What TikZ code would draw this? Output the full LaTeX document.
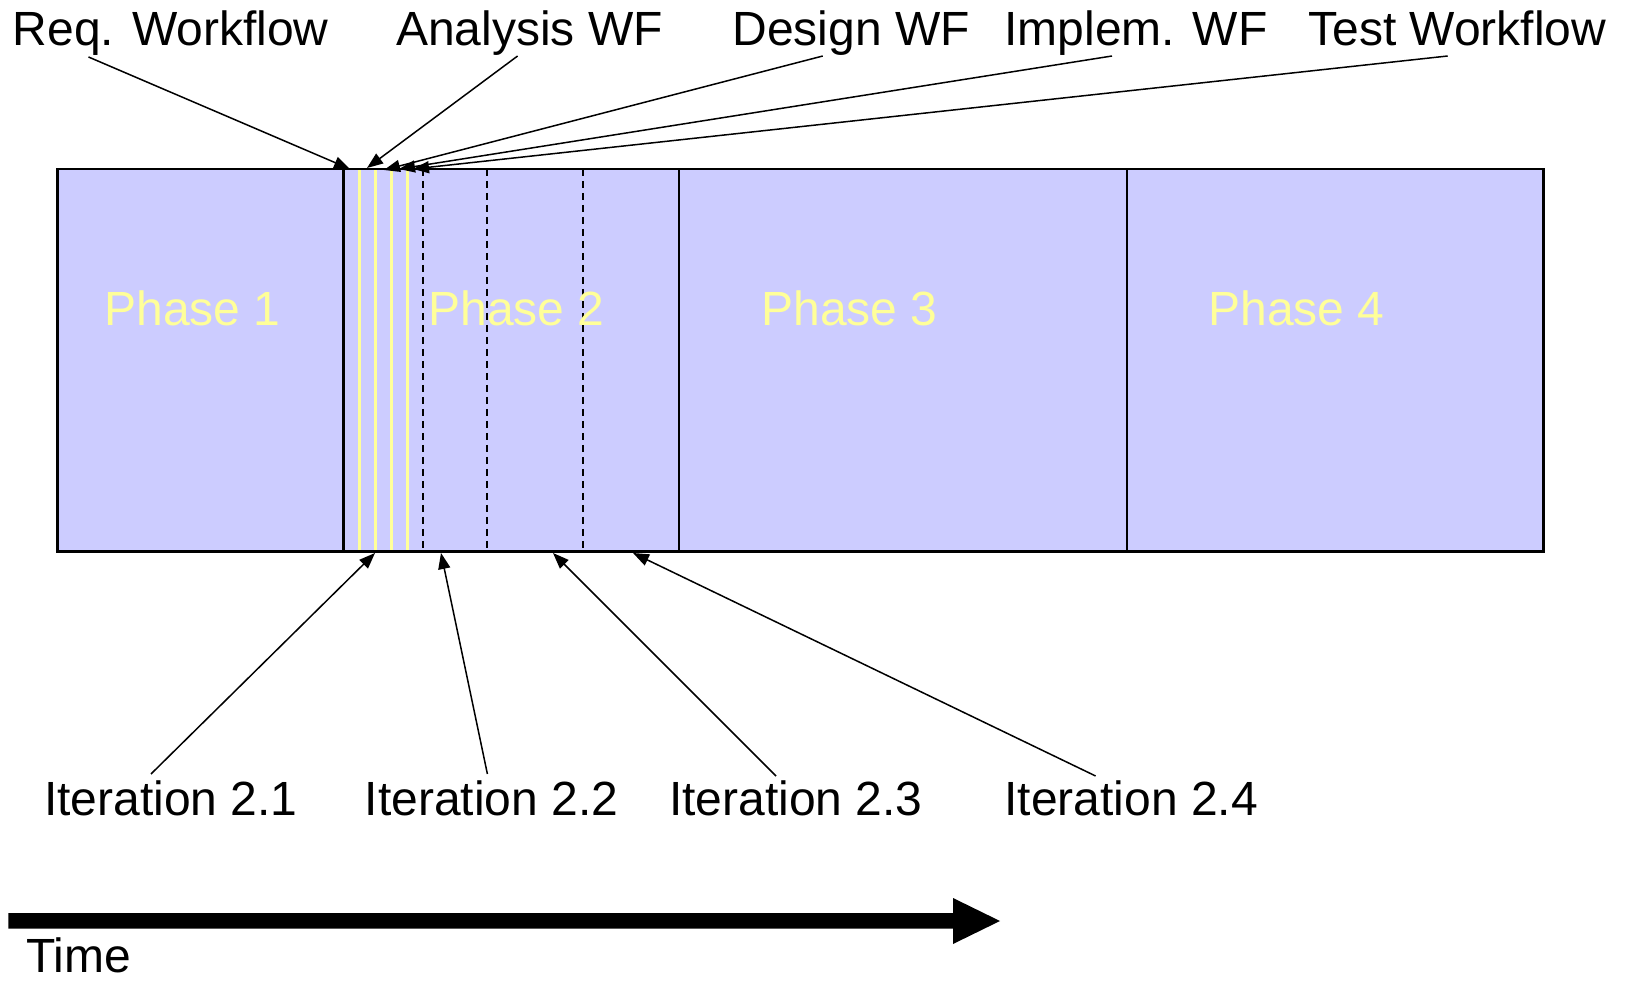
\documentclass[tikz,border=0pt]{standalone}
\usepackage{fontspec}
\setmainfont{Liberation Sans}
\usetikzlibrary{arrows.meta}
\definecolor{phasefill}{HTML}{CCCCFF}
\definecolor{phasetext}{HTML}{FFFF99}
\definecolor{wfline}{HTML}{FFFF99}
\tikzset{
  lbl/.style={anchor=base west, inner sep=0pt, font=\fontsize{24pt}{28pt}\selectfont},
  phaselbl/.style={lbl, text=phasetext},
  pointer/.style={line width=0.75pt, -{Triangle[length=8pt,width=6pt]}},
  border/.style={line width=1.2pt},
  wfsplit/.style={wfline, line width=1.2pt},
  itersplit/.style={line width=1.1pt, dash pattern=on 3.5pt off 2.5pt},
}
\begin{document}
\begin{tikzpicture}[x=0.5pt,y=-0.5pt]
\useasboundingbox (0,0) rectangle (1633,983);

% phase band
\fill[phasefill] (57.3,169) rectangle (1543.5,551.5);
% workflow slices of iteration 2.1
\foreach \x in {359.3,375.3,391.3,407.3}
  \draw[wfsplit] (\x,169) -- (\x,551.5);
% iteration boundaries
\foreach \x in {423.3,487.3,583.3}
  \draw[itersplit] (\x,169) -- (\x,551.5);
% phase boundaries and outline
\draw[border] (57.3,169) rectangle (1543.5,551.5);
\foreach \x in {343.5,679,1127}
  \draw[border] (\x,169) -- (\x,551.5);

% phase labels
\node[phaselbl] (p1) at (104,326) {Phase 1};
\node[phaselbl] (p2) at (428,326) {Phase 2};
\node[phaselbl] (p3) at (761,326) {Phase 3};
\node[phaselbl] (p4) at (1208,326) {Phase 4};

% workflow labels
\node[lbl] (req) at (12.5,46) {Req. Workflow};
\node[lbl] (ana) at (395.8,46) {Analysis WF};
\node[lbl] (des) at (732,46) {Design WF};
\node[lbl] (imp) at (1004,46) {Implem. WF};
\node[lbl] (tst) at (1308,46) {Test Workflow};

\coordinate (reqS) at (88.5,57);
\coordinate (anaS) at (517.6,56);
\coordinate (desS) at (822.8,56);
\coordinate (impS) at (1112,56);
\coordinate (tstS) at (1447.7,56);
\coordinate (reqT) at (350,169);
\coordinate (anaT) at (367,168);
\coordinate (desT) at (384,170);
\coordinate (impT) at (399,169);
\coordinate (tstT) at (413,169);
\draw[pointer] (reqS) -- (reqT);
\draw[pointer] (anaS) -- (anaT);
\draw[pointer] (desS) -- (desT);
\draw[pointer] (impS) -- (impT);
\draw[pointer] (tstS) -- (tstT);

% iteration labels
\node[lbl] (it1) at (43.7,815.5) {Iteration 2.1};
\node[lbl] (it2) at (364.5,815.5) {Iteration 2.2};
\node[lbl] (it3) at (668.6,815.5) {Iteration 2.3};
\node[lbl] (it4) at (1004,815.5) {Iteration 2.4};

\coordinate (it1S) at (151,774);
\coordinate (it2S) at (487.4,774);
\coordinate (it3S) at (776,776);
\coordinate (it4S) at (1095.6,776);
\coordinate (it1T) at (375,553);
\coordinate (it2T) at (441,553);
\coordinate (it3T) at (553,553);
\coordinate (it4T) at (633,553);
\draw[pointer] (it1S) -- (it1T);
\draw[pointer] (it2S) -- (it2T);
\draw[pointer] (it3S) -- (it3T);
\draw[pointer] (it4S) -- (it4T);

% time axis
\fill (8.3,913) -- (953,913) -- (953,898) -- (1000,921) -- (953,944)
  -- (953,928.5) -- (8.3,928.5) -- cycle;
\node[lbl, text depth=0pt] (time) at (26,972) {Time};
\end{tikzpicture}
\end{document}
